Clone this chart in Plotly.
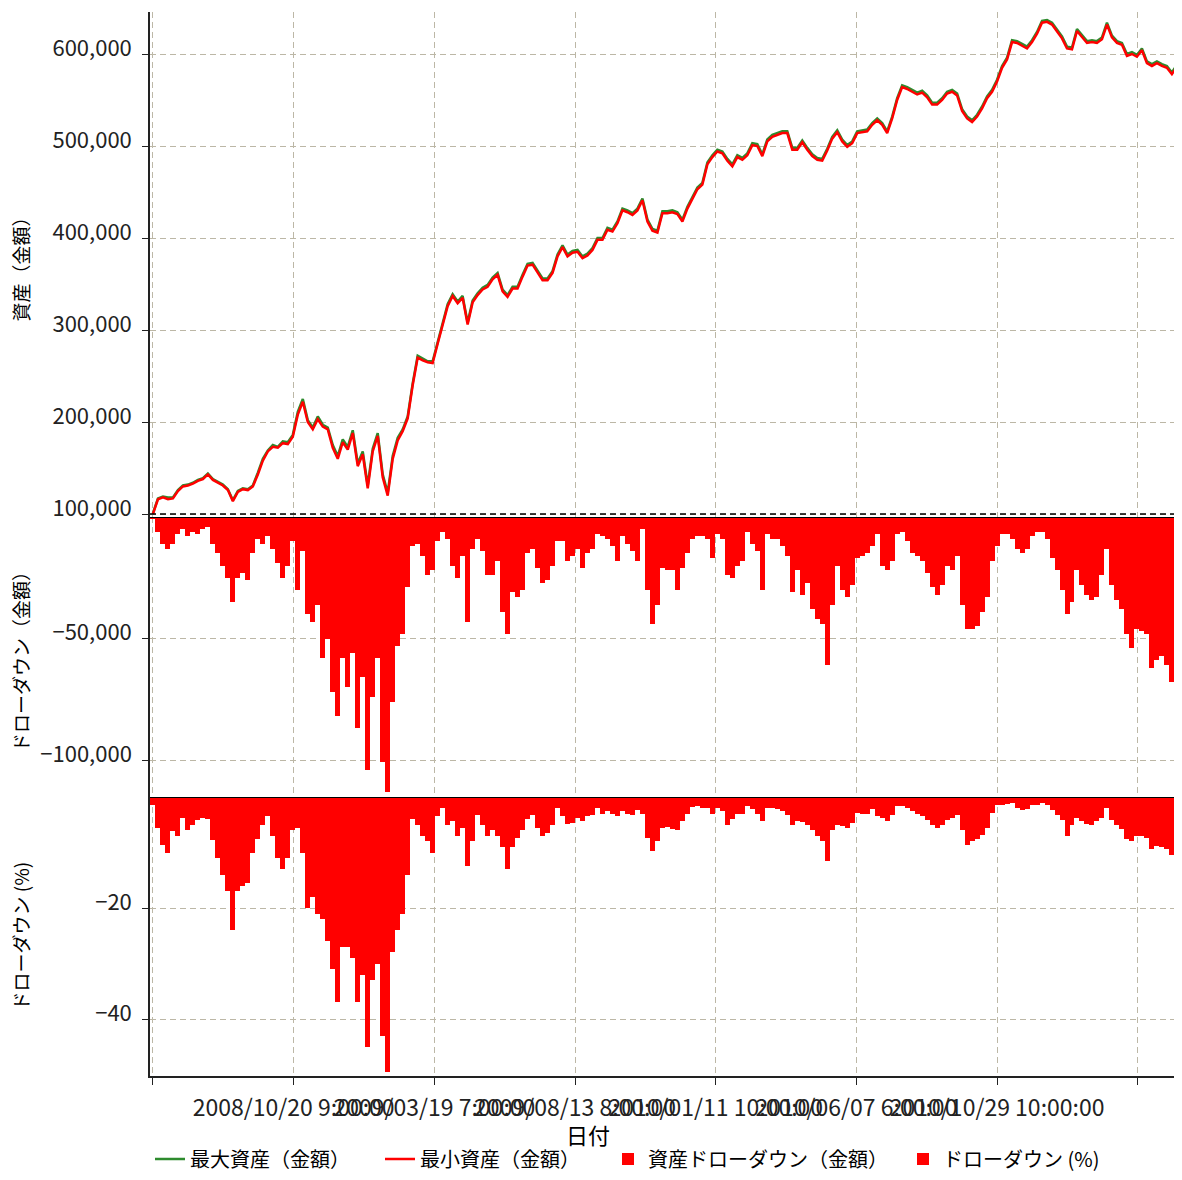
import plotly.graph_objects as go
from plotly.subplots import make_subplots

# ---------------- data ----------------
SAMPLE_STEP = 35.5          # bars between samples
INITIAL_CAPITAL = 100000

# 最大資産 (金額), thousands
equity_max_k = [
    101,117,119,118,118,126,131,132,134,137,
    139,144,138,135,132,127,115,125,128,127,
    131,145,160,169,175,173,179,178,186,211,
    225,202,194,206,197,194,175,163,181,173,
    191,155,168,131,171,188,143,123,163,183,
    192,206,242,272,269,266,266,287,308,328,
    339,331,337,308,332,340,346,349,357,362,
    344,338,347,347,360,372,373,364,356,356,
    364,382,392,382,386,387,380,383,389,400,
    400,411,409,418,432,430,427,432,443,420,
    410,408,429,429,430,428,420,434,445,455,
    460,482,490,496,494,486,480,490,487,492,
    503,502,491,507,512,514,516,516,498,498,
    506,498,491,487,486,497,510,517,507,501,
    505,516,517,518,525,530,525,516,532,552,
    566,564,561,558,560,555,547,547,552,559,
    561,557,540,532,528,534,543,554,561,572,
    587,596,615,614,611,608,615,624,636,637,
    634,626,619,608,607,627,620,614,615,614,
    618,634,620,614,612,600,602,599,606,592,
    589,592,589,587,580,588]

# 最小資産 (金額), thousands
equity_min_k = [
    100,116,118,116,117,125,130,131,133,136,
    138,143,137,134,131,126,114,124,127,126,
    130,143,158,168,173,172,177,176,184,208,
    222,200,192,203,195,192,172,160,178,170,
    188,152,165,128,168,185,140,120,160,180,
    190,204,240,270,267,265,264,285,306,326,
    337,329,335,306,330,338,344,347,355,360,
    342,336,345,345,358,370,371,362,354,354,
    362,380,390,380,384,385,378,381,387,398,
    398,409,407,416,430,428,425,430,441,418,
    408,406,427,427,428,426,418,432,443,453,
    458,480,488,494,492,484,478,488,485,490,
    501,500,489,505,510,512,514,514,496,496,
    504,496,489,485,484,495,508,515,505,499,
    503,514,515,516,523,528,523,514,530,550,
    564,562,559,556,558,553,545,545,550,557,
    559,555,538,530,526,532,541,552,559,570,
    585,594,613,612,609,606,613,622,634,635,
    632,624,617,606,605,625,618,612,613,612,
    616,632,618,612,610,598,600,597,604,590,
    587,590,587,585,578,586]

# 資産ドローダウン(金額), thousands
drawdown_k = [
    -1,-6,-11,-13,-11,-7,-5,-8,-6,-7,
    -5,-4,-11,-15,-20,-25,-35,-25,-23,-26,
    -15,-9,-11,-8,-13,-19,-25,-20,-10,-30,
    -14,-40,-43,-36,-58,-50,-72,-82,-58,-70,
    -56,-87,-66,-104,-74,-58,-101,-113,-76,-53,
    -48,-29,-12,-11,-16,-24,-22,-10,-6,-9,
    -20,-25,-16,-43,-13,-9,-14,-24,-24,-18,
    -39,-48,-31,-33,-30,-15,-13,-21,-27,-26,
    -20,-10,-10,-18,-16,-13,-21,-15,-13,-7,
    -8,-9,-12,-18,-8,-11,-14,-18,-5,-30,
    -44,-36,-21,-22,-22,-30,-21,-15,-9,-8,
    -8,-9,-17,-7,-9,-24,-25,-20,-18,-6,
    -11,-14,-30,-7,-9,-9,-12,-16,-31,-22,
    -32,-27,-38,-42,-44,-61,-36,-20,-30,-33,
    -28,-17,-16,-15,-12,-7,-20,-22,-18,-7,
    -6,-10,-15,-16,-18,-23,-29,-32,-28,-20,
    -22,-16,-36,-46,-46,-45,-39,-33,-18,-12,
    -7,-7,-9,-13,-15,-13,-8,-6,-6,-9,
    -17,-22,-30,-40,-35,-22,-28,-32,-34,-33,
    -24,-13,-28,-34,-38,-48,-54,-46,-47,-48,
    -62,-59,-57,-61,-68,-72]

# ドローダウン (%)
drawdown_pct = [
    -1.4,-5.6,-8.6,-10,-6.2,-7,-3.8,-6,-5,-4.2,
    -3.8,-4,-7.8,-11,-14,-17,-24,-17,-16,-15.5,
    -10,-7.5,-5,-3.5,-7,-11,-13,-11,-6,-5.6,
    -10,-20,-18,-21,-22,-26,-31,-37,-27,-27,
    -29,-37,-32,-45,-33,-30,-43,-49.5,-28,-24,
    -21,-14,-4,-5,-7,-8,-10,-3.5,-2,-5,
    -4.4,-7,-5.5,-12.5,-8,-3.2,-5,-7,-6,-7,
    -9,-13,-9,-7.4,-6,-4,-3.2,-5.6,-7,-6.5,
    -5,-2,-3.5,-4.8,-4.6,-3.8,-4.4,-3.5,-3.2,-2,
    -3,-2.6,-3,-3.4,-2.6,-3,-3.2,-2.4,-3,-7.4,
    -9.8,-8,-5.6,-5.4,-5.8,-6,-4.4,-3,-1.8,-1.6,
    -2,-2,-3,-2,-2.6,-5,-4,-3,-3,-1.6,
    -2.2,-3,-4.4,-2,-2,-2.2,-2.6,-3.2,-5,-4.4,
    -4.5,-5,-6,-7,-8,-11.6,-6,-5,-5.2,-5.6,
    -4.6,-2.8,-3,-3,-2.2,-3.4,-3.8,-4.4,-3.2,-1.6,
    -1.6,-2,-2.6,-3,-3.5,-4.2,-5,-5.6,-5,-4.2,
    -3.8,-3.2,-6,-8.6,-8,-7.6,-6.8,-5.6,-2.8,-1.4,
    -1.4,-1.2,-1,-2,-2.4,-2.2,-1.4,-1.4,-1,-1.4,
    -2.4,-3.2,-4.2,-7,-5,-3.8,-4.4,-4.8,-5,-4.4,
    -3.8,-2,-4.2,-5,-5.8,-7.5,-8,-7,-7,-7.4,
    -9.4,-8.8,-9,-9.4,-10.5,-11.4]

tick_bars = [0, 1000, 2000, 3000, 4000, 5000, 6000, 7000]
tick_labels = ["", "2008/10/20 9:00:00", "2009/03/19 7:00:00", "2009/08/13 8:00:00",
               "2010/01/11 10:00:00", "2010/06/07 6:00:00", "2010/10/29 10:00:00", ""]

series_names = ["最大資産（金額）", "最小資産（金額）", "資産ドローダウン（金額）", "ドローダウン (%)"]
axis_titles = ["資産（金額）", "ドローダウン（金額）", "ドローダウン (%)"]
x_title = "日付"

# ---------------- figure ----------------
FONT = "Noto Sans CJK JP"
RED = "#ff0000"
GREEN = "#2e8b2e"
GRID = "#bcb7a6"
AXIS = "#222222"
W, H = 1166, 1164
ML, MT, MB = 142, 4, 96
PW = W - ML
PH = H - MT - MB

n = len(equity_min_k)
xs = [i * SAMPLE_STEP for i in range(n)]

fig = make_subplots(rows=3, cols=1, shared_xaxes=True, vertical_spacing=0,
                    row_heights=[505, 280, 279])

fig.add_trace(go.Scatter(x=xs, y=[v * 1000 for v in equity_max_k], mode="lines",
                         line=dict(color=GREEN, width=2.5), name=series_names[0],
                         legend="legend", showlegend=True), row=1, col=1)
fig.add_trace(go.Scatter(x=xs, y=[v * 1000 for v in equity_min_k], mode="lines",
                         line=dict(color=RED, width=2.5), name=series_names[1],
                         legend="legend2", showlegend=True), row=1, col=1)
fig.add_trace(go.Bar(x=xs, y=[v * 1000 for v in drawdown_k], width=SAMPLE_STEP,
                     marker=dict(color=RED, line=dict(width=0)),
                     name=series_names[2], legend="legend3", showlegend=True), row=2, col=1)
fig.add_trace(go.Bar(x=xs, y=drawdown_pct, width=SAMPLE_STEP,
                     marker=dict(color=RED, line=dict(width=0)),
                     name=series_names[3], legend="legend4", showlegend=True), row=3, col=1)

x_range = [-21, 7257]
common_x = dict(range=x_range, showgrid=True, gridcolor=GRID, griddash="6px,4px", gridwidth=1,
                tickvals=tick_bars, zeroline=False)
fig.update_xaxes(**common_x)
fig.update_xaxes(showticklabels=False, ticks="", row=1, col=1)
fig.update_xaxes(showticklabels=False, ticks="", row=2, col=1)
fig.update_xaxes(ticktext=tick_labels, tickangle=0, ticks="outside", ticklen=7, tickcolor=AXIS,
                 showline=True, linecolor=AXIS, linewidth=1.5, ticklabelstandoff=4,
                 tickfont=dict(family=FONT, size=23, color="#222"), row=3, col=1)

common_y = dict(showgrid=True, gridcolor=GRID, griddash="6px,4px", gridwidth=1, zeroline=False,
                showline=True, linecolor=AXIS, linewidth=1.5, ticks="outside", ticklen=6,
                tickcolor=AXIS, ticklabelstandoff=6, ticklabelshift=-6, tickformat=",",
                tickfont=dict(family=FONT, size=22, color="#222"))
fig.update_yaxes(**common_y)
fig.update_yaxes(range=[96740, 645650],
                 tickvals=[100000, 200000, 300000, 400000, 500000, 600000], row=1, col=1)
fig.update_yaxes(range=[-115200, 0], tickvals=[-100000, -50000], row=2, col=1)
fig.update_yaxes(range=[-50.27, 0], tickvals=[-40, -20], row=3, col=1)

# reference lines
fig.add_shape(type="line", xref="x domain", yref="y", x0=0, x1=1,
              y0=INITIAL_CAPITAL, y1=INITIAL_CAPITAL,
              line=dict(color="black", width=1.5, dash="6px,4px"))
for yr in ["y2", "y3"]:
    fig.add_shape(type="line", xref="paper", yref=yr, x0=0, x1=1, y0=0, y1=0,
                  line=dict(color="black", width=2))

def px_x(p):   # page pixel -> paper x
    return (p - 8 - ML) / PW

def px_y(p):   # page pixel -> paper y
    return (H - MB + 8 - p) / PH

# axis titles
for yr, txt in zip(["y domain", "y2 domain", "y3 domain"], axis_titles):
    fig.add_annotation(text=txt, xref="paper", yref=yr, x=px_x(20), y=0.5, textangle=-90,
                       showarrow=False, xanchor="center", yanchor="middle",
                       font=dict(family=FONT, size=19, color="black"))
fig.add_annotation(text=x_title, xref="paper", yref="paper", x=px_x(588), y=px_y(1134),
                   showarrow=False, xanchor="center", yanchor="middle",
                   font=dict(family=FONT, size=22, color="black"))

leg_common = dict(orientation="h", yanchor="middle", xanchor="left", y=px_y(1159),
                  font=dict(family=FONT, size=20, color="black"), itemwidth=30,
                  bgcolor="rgba(0,0,0,0)", borderwidth=0)
fig.update_layout(
    width=W, height=H,
    margin=dict(l=ML, r=0, t=MT, b=MB, autoexpand=False),
    paper_bgcolor="white", plot_bgcolor="white",
    bargap=0, barmode="overlay", showlegend=True,
    font=dict(family=FONT, size=20, color="black"),
    legend=dict(x=px_x(150), **leg_common),
    legend2=dict(x=px_x(380), **leg_common),
    legend3=dict(x=px_x(608), **leg_common),
    legend4=dict(x=px_x(903), **leg_common),
)

fig.write_html("out.html")
